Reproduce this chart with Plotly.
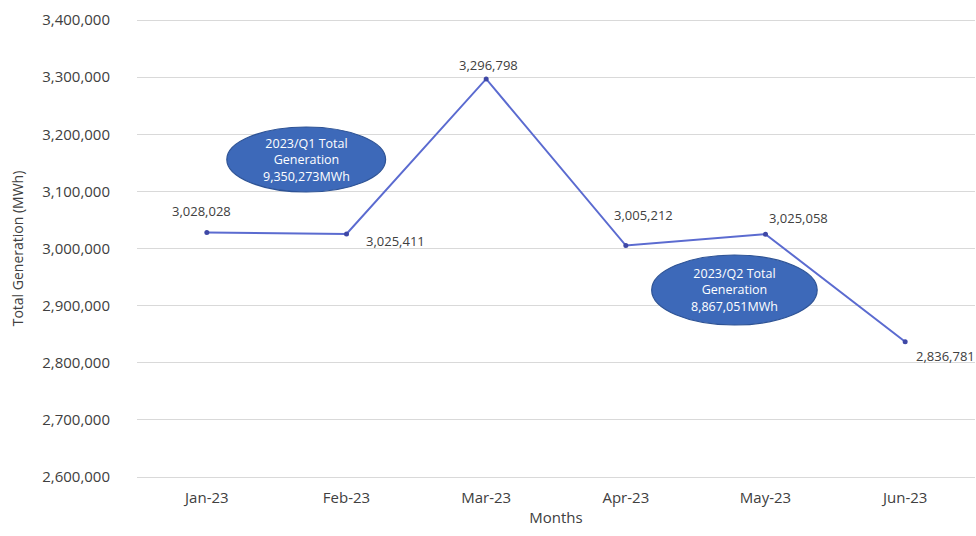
import plotly.graph_objects as go

months = ["Jan-23", "Feb-23", "Mar-23", "Apr-23", "May-23", "Jun-23"]
generation = [3028028, 3025411, 3296798, 3005212, 3025058, 2836781]
y_ticks = [2600000, 2700000, 2800000, 2900000, 3000000, 3100000, 3200000, 3300000, 3400000]
q1_text = ["2023/Q1 Total", "Generation", "9,350,273MWh"]
q2_text = ["2023/Q2 Total", "Generation", "8,867,051MWh"]

# label pixel offsets (styling)
label_dx = [-5, 49, 2, 18, 33, 40]
label_dy = [21, -7, 14, 31, 16, -14]

FONT = "'Open Sans', Lato, sans-serif"
TXT = "#404040"

fig = go.Figure()
fig.add_trace(go.Scatter(
    x=list(range(len(months))), y=generation, mode="lines+markers",
    line=dict(color="#5B6BD0", width=2),
    marker=dict(size=5, color="#3F48A6"),
    hoverinfo="skip", showlegend=False,
))

anns = []
for i, v in enumerate(generation):
    anns.append(dict(x=i, y=v, xref="x", yref="y", text=f"{v:,}", showarrow=False,
                     xshift=label_dx[i], yshift=label_dy[i],
                     font=dict(family=FONT, size=13, color=TXT)))

shapes = []
def ellipse(x0, x1, y0, y1, lines):
    shapes.append(dict(type="circle", xref="x", yref="y", x0=x0, x1=x1, y0=y0, y1=y1,
                       fillcolor="#3D69B9", line=dict(color="#2E5395", width=1.2), layer="above"))
    anns.append(dict(x=(x0 + x1) / 2, y=(y0 + y1) / 2, xref="x", yref="y",
                     text="<br>".join(lines), showarrow=False,
                     font=dict(family=FONT, size=12.5, color="white")))

ellipse(0.143, 1.28, 3098900, 3212700, q1_text)
ellipse(3.185, 4.37, 2866100, 2988600, q2_text)

fig.update_layout(
    width=976, height=536,
    margin=dict(l=137, r=1, t=18, b=57),
    paper_bgcolor="white", plot_bgcolor="white",
    font=dict(family=FONT, color=TXT),
    shapes=shapes, annotations=anns,
)
fig.update_xaxes(
    tickmode="array", tickvals=list(range(len(months))), ticktext=months,
    range=[-0.5, 5.5], showgrid=False, zeroline=False, showline=False,
    tickfont=dict(size=15, color=TXT), ticks="", ticklabelstandoff=8,
    title=dict(text="Months", font=dict(size=15, color=TXT), standoff=6),
)
fig.update_yaxes(
    tickmode="array", tickvals=y_ticks, ticktext=[f"{t:,}" for t in y_ticks],
    range=[2596500, 3403500], showgrid=True, gridcolor="#D9D9D9", gridwidth=1,
    zeroline=False, showline=False, ticks="",
    tickfont=dict(size=15, color=TXT), ticklabelstandoff=26,
    title=dict(text="Total Generation (MWh)", font=dict(size=14, color=TXT), standoff=15),
)
fig.write_html("out.html")
